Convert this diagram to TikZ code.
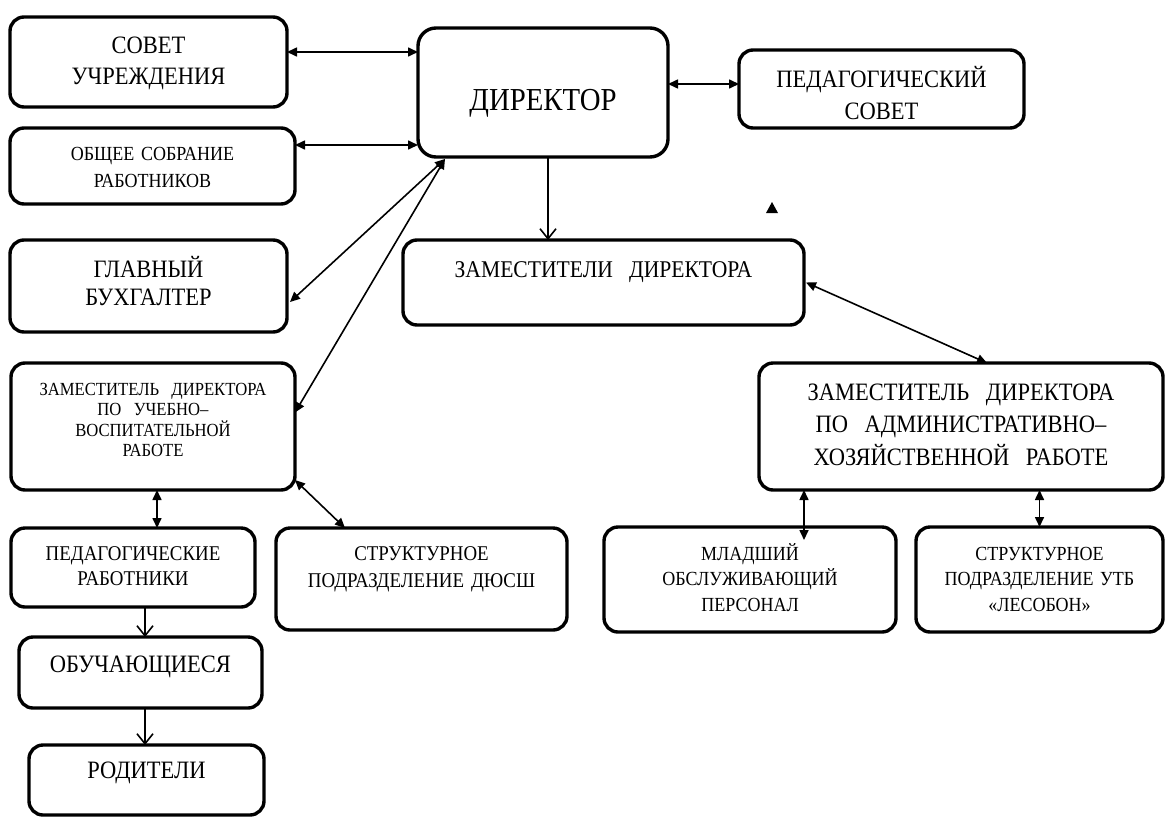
\documentclass[tikz,border=0pt]{standalone}
\usepackage{fontspec}
\setmainfont{Liberation Serif}[FakeStretch=0.9]
\usepackage{tikz}
\usetikzlibrary{arrows.meta, positioning, calc}

\begin{document}
\begin{tikzpicture}[
    box/.style={rectangle, draw, line width=3.4pt, rounded corners=14pt, align=center, anchor=north west, outer sep=0pt, inner sep=2pt},
    lift/.style={text height=0pt, text depth=#1},
    arrow/.style={-{Straight Barb[length=10pt,width=16pt]}, line width=1.6pt},
    dblarrow/.style={{Triangle[length=10pt,width=9pt]}-{Triangle[length=10pt,width=9pt]}, line width=1.6pt}
]
    \useasboundingbox (0pt,0pt) rectangle (1166pt,-819pt);

    % Director
    \node[box, rounded corners=18pt, minimum width=250pt, minimum height=129pt, text width=238pt, text height=35pt, text depth=0pt, font=\fontsize{32}{38}\selectfont] (director) at (418pt,-28pt) {ДИРЕКТОР};
    \node[box, right=71pt of director.north east, anchor=north west, yshift=-22pt, minimum width=285pt, minimum height=78pt, text width=273pt, lift=4pt, font=\fontsize{25}{32}\selectfont] (pedsovet) {ПЕДАГОГИЧЕСКИЙ\\СОВЕТ};

    % Left column
    \node[box, minimum width=277pt, minimum height=90pt, text width=265pt, lift=18pt, font=\fontsize{25}{31}\selectfont] (sovet) at (10pt,-17pt) {СОВЕТ\\УЧРЕЖДЕНИЯ};
    \node[box, below=21pt of sovet.south west, anchor=north west, minimum width=285pt, minimum height=76pt, text width=273pt, lift=12pt, font=\fontsize{20}{27}\selectfont] (sobranie) {ОБЩЕЕ СОБРАНИЕ\\РАБОТНИКОВ};
    \node[box, below=36pt of sobranie.south west, anchor=north west, minimum width=277pt, minimum height=92pt, text width=265pt, lift=18pt, font=\fontsize{25}{28}\selectfont] (buh) {ГЛАВНЫЙ\\БУХГАЛТЕР};
    \node[box, below=31pt of buh.south west, anchor=north west, xshift=1pt, minimum width=284pt, minimum height=127pt, text width=272pt, lift=63pt, font=\fontsize{18.5}{20.5}\selectfont] (zamuvr) {ЗАМЕСТИТЕЛЬ\ \ ДИРЕКТОРА\\ПО\ \ УЧЕБНО--\\ВОСПИТАТЕЛЬНОЙ\\РАБОТЕ};

    % Teaching staff and pupils
    \node[box, below=38pt of zamuvr.south west, anchor=north west, minimum width=244pt, minimum height=79pt, text width=232pt, lift=15pt, font=\fontsize{21}{25}\selectfont] (pedrab) {ПЕДАГОГИЧЕСКИЕ\\РАБОТНИКИ};
    \node[box, right=21pt of pedrab.north east, anchor=north west, minimum width=291pt, minimum height=102pt, text width=279pt, lift=38pt, font=\fontsize{21}{27}\selectfont] (dyussh) {СТРУКТУРНОЕ\\ПОДРАЗДЕЛЕНИЕ~ДЮСШ};
    \node[box, below=30pt of pedrab.south west, anchor=north west, xshift=8pt, minimum width=243pt, minimum height=71pt, text width=231pt, lift=0pt, font=\fontsize{25}{28}\selectfont] (obuch) {ОБУЧАЮЩИЕСЯ};
    \node[box, below=37pt of obuch.south west, anchor=north west, xshift=10pt, minimum width=235pt, minimum height=70pt, text width=223pt, lift=4pt, font=\fontsize{25}{28}\selectfont] (roditeli) {РОДИТЕЛИ};

    % Deputies
    \node[box, below=83pt of director.south west, anchor=north west, xshift=-15pt, minimum width=401pt, minimum height=85pt, text width=389pt, lift=10pt, font=\fontsize{24}{28}\selectfont] (zamy) {ЗАМЕСТИТЕЛИ\ \ ДИРЕКТОРА};
    \node[box, below=38pt of zamy.south east, anchor=north west, xshift=-45pt, minimum width=404pt, minimum height=127pt, text width=392pt, lift=53pt, font=\fontsize{25}{32.5}\selectfont] (ahr) {ЗАМЕСТИТЕЛЬ\ \ ДИРЕКТОРА\\ПО\ \ АДМИНИСТРАТИВНО--\\ХОЗЯЙСТВЕННОЙ\ \ РАБОТЕ};
    \node[box, below=37pt of ahr.south west, anchor=north west, xshift=-155pt, minimum width=292pt, minimum height=105pt, text width=280pt, lift=39pt, font=\fontsize{20}{25.5}\selectfont] (mladsh) {МЛАДШИЙ\\ОБСЛУЖИВАЮЩИЙ\\ПЕРСОНАЛ};
    \node[box, right=20pt of mladsh.north east, anchor=north west, minimum width=247pt, minimum height=105pt, text width=241pt, lift=39pt, font=\fontsize{20}{25.5}\selectfont] (utb) {СТРУКТУРНОЕ\\ПОДРАЗДЕЛЕНИЕ~УТБ\\«ЛЕСОБОН»};

    % stray arrow tip
    \fill (766pt,-213pt) -- (778pt,-213pt) -- (772pt,-202pt) -- cycle;

    % Connect to director
    \draw[dblarrow] ($(sovet.east)+(0,10pt)$) -- ($(sovet.east -| director.west)+(0,10pt)$);
    \draw[dblarrow] ($(sobranie.east)+(0,21pt)$) -- ($(sobranie.east -| director.west)+(0,21pt)$);
    \draw[dblarrow] ($(director.east |- pedsovet.west)+(0,5pt)$) -- ($(pedsovet.west)+(0,5pt)$);
    \draw[dblarrow] ($(buh.east)+(3pt,-16pt)$) -- ($(director.south west)+(27pt,-2pt)$);
    \draw[dblarrow] ($(zamuvr.east)+(0,14pt)$) -- ($(director.south west)+(27pt,-2pt)$);
    \draw[arrow] ($(director.south)+(5pt,0)$) -- ($(director.south |- zamy.north)+(5pt,0)$);

    % Teaching branch
    \draw[dblarrow] ($(zamuvr.south)+(4pt,0)$) -- ($(zamuvr.south |- pedrab.north)+(4pt,0)$);
    \draw[dblarrow] ($(zamuvr.south east)+(0,10pt)$) -- ($(dyussh.north west)+(69pt,0)$);
    \draw[arrow] ($(pedrab.south)+(12pt,0)$) -- ($(pedrab.south |- obuch.north)+(12pt,0)$);
    \draw[arrow] ($(obuch.south)+(4.5pt,0)$) -- ($(obuch.south |- roditeli.north)+(4.5pt,0)$);

    % Administrative branch
    \draw[dblarrow] ($(zamy.east)+(2pt,0)$) -- ($(ahr.north)+(26pt,0)$);
    \draw[dblarrow] ($(ahr.south -| mladsh.north)+(54pt,0)$) -- ($(mladsh.north)+(54pt,-13pt)$);
    \draw[dblarrow] (ahr.south -| utb.north) -- (utb.north);

\end{tikzpicture}
\end{document}
